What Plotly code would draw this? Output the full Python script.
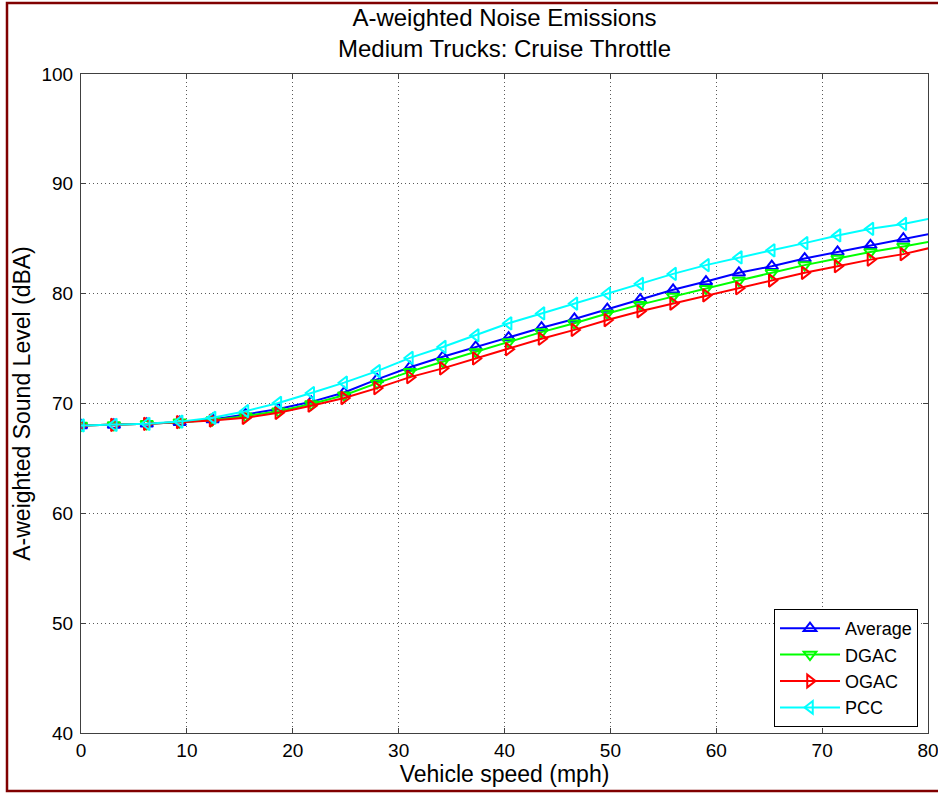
import plotly.graph_objects as go

# Speeds: 0..130 km/h in 5 km/h steps, expressed in mph
speed_kmh = [0, 5, 10, 15, 20, 25, 30, 35, 40, 45, 50, 55, 60, 65, 70, 75, 80,
             85, 90, 95, 100, 105, 110, 115, 120, 125, 130]
speed_mph = [round(v / 1.609344, 4) for v in speed_kmh]

average = [68.0, 68.05, 68.15, 68.3, 68.55, 69.0, 69.5, 70.15, 71.0, 72.2, 73.3,
           74.25, 75.15, 76.0, 76.9, 77.7, 78.6, 79.45, 80.35, 81.1, 81.9, 82.5,
           83.2, 83.8, 84.4, 85.0, 85.55]
dgac = [68.0, 68.05, 68.15, 68.3, 68.5, 68.85, 69.3, 69.95, 70.75, 71.85, 72.9,
        73.8, 74.7, 75.6, 76.5, 77.3, 78.2, 79.0, 79.75, 80.45, 81.2, 81.9,
        82.6, 83.2, 83.8, 84.3, 84.85]
ogac = [68.0, 68.05, 68.15, 68.3, 68.45, 68.7, 69.15, 69.8, 70.5, 71.4, 72.4,
        73.2, 74.1, 74.95, 75.9, 76.7, 77.6, 78.4, 79.1, 79.85, 80.5, 81.2,
        81.9, 82.5, 83.1, 83.6, 84.3]
pcc = [68.0, 68.05, 68.15, 68.35, 68.7, 69.3, 70.05, 70.95, 71.9, 72.95, 74.15,
       75.15, 76.2, 77.3, 78.2, 79.1, 80.0, 80.9, 81.8, 82.6, 83.3, 83.95,
       84.6, 85.3, 85.9, 86.35, 86.95]

series_names = ["Average", "DGAC", "OGAC", "PCC"]
series_values = [average, dgac, ogac, pcc]
series_colors = ["#0000FF", "#00FF00", "#FF0000", "#00FFFF"]
series_symbols = ["triangle-up-open", "triangle-down-open",
                  "triangle-right-open", "triangle-left-open"]

x_ticks = [0, 10, 20, 30, 40, 50, 60, 70, 80]
y_ticks = [40, 50, 60, 70, 80, 90, 100]

fig = go.Figure()
for name, vals, col, sym in zip(series_names, series_values, series_colors, series_symbols):
    fig.add_trace(go.Scatter(
        x=speed_mph, y=vals, name=name, mode="lines+markers",
        line=dict(color=col, width=2),
        marker=dict(symbol=sym, size=11, color=col, line=dict(color=col, width=2)),
        cliponaxis=True,
    ))

W, H = 938, 794
L, R, T, B = 81, 10, 74, 61
pw = W - L - R
ph = H - T - B

def px_x(p):
    return (p - L) / pw

def px_y(p):
    return (H - B - p) / ph

axis_common = dict(
    showline=True, linecolor="#404040", linewidth=1, mirror="ticks",
    ticks="inside", ticklen=5, tickcolor="#404040",
    showgrid=True, gridcolor="#5a5a5a", griddash="1px,3px", gridwidth=1,
    zeroline=False, tickfont=dict(size=19, color="black"),
    ticklabeloverflow="allow",
)

fig.update_layout(
    width=W, height=H,
    margin=dict(l=L, r=R, t=T, b=B, autoexpand=False),
    paper_bgcolor="white", plot_bgcolor="white",
    font=dict(family="Liberation Sans, Arial, sans-serif", color="black"),
    title=dict(text="A-weighted Noise Emissions<br>Medium Trucks: Cruise Throttle",
               x=0.5, xref="paper", xanchor="center",
               y=1 - 25.5 / H, yref="container", yanchor="middle",
               font=dict(size=24, color="black")),
    xaxis=dict(range=[0, 80], tickvals=x_ticks,
               title=dict(text="Vehicle speed (mph)", font=dict(size=23), standoff=5),
               **axis_common),
    yaxis=dict(range=[40, 100], tickvals=y_ticks, ticklabelstandoff=3,
               title=dict(text="A-weighted Sound Level (dBA)", font=dict(size=23), standoff=4),
               **axis_common),
    legend=dict(x=px_x(918), y=px_y(727), xanchor="right", yanchor="bottom",
                bgcolor="white", bordercolor="black", borderwidth=1, itemwidth=60,
                font=dict(size=18, color="black"), tracegroupgap=0),
    shapes=[dict(type="rect", xref="paper", yref="paper",
                 x0=px_x(7), x1=px_x(941), y0=px_y(791), y1=px_y(3),
                 line=dict(color="#800000", width=2.5), layer="below")],
)

fig.write_html("out.html", config={"displayModeBar": False},
               post_script="document.body.style.margin='0';")
